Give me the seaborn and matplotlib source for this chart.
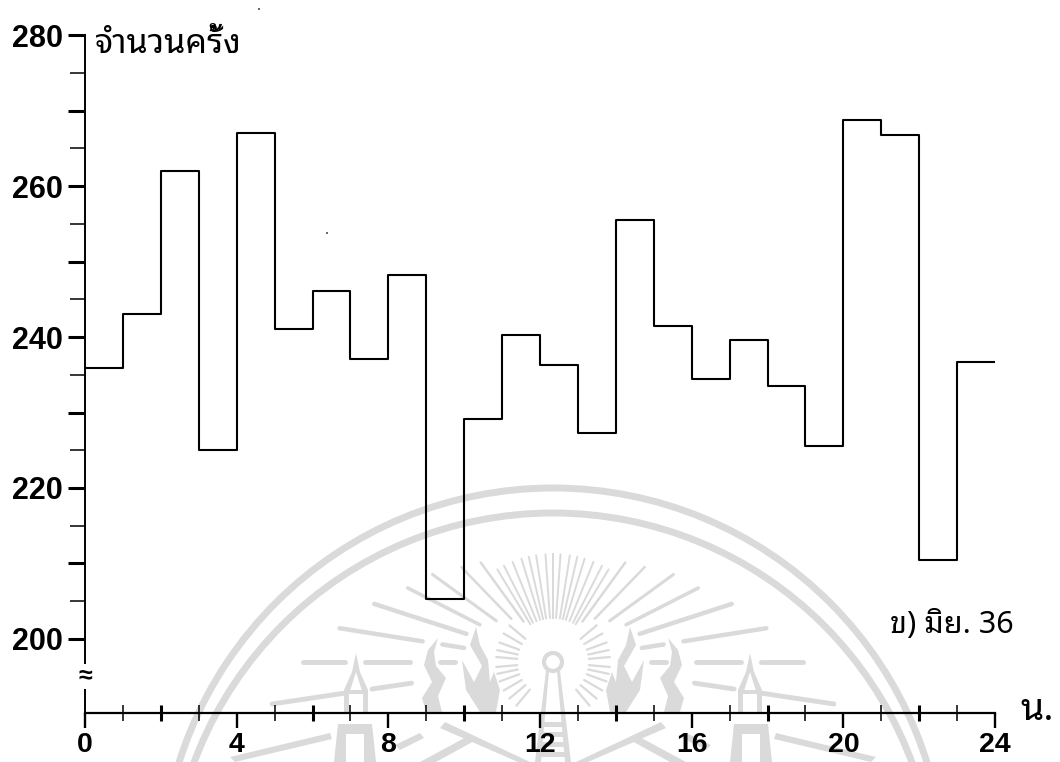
import math
import matplotlib.pyplot as plt
from matplotlib.patches import Circle, Polygon, Rectangle
import seaborn as sns

# -- chart data
hours = list(range(24))
counts = [235.9, 243.0, 262.0, 225.0, 267.1, 241.1, 246.1, 237.1, 248.2, 205.3, 229.2, 240.3,
          236.3, 227.3, 255.5, 241.4, 234.4, 239.6, 233.5, 225.5, 268.8, 266.8, 210.5, 236.7]
y_labels = [200, 220, 240, 260, 280]
y_major = [200, 210, 220, 230, 240, 250, 260, 270, 280]
y_minor = [205, 215, 225, 235, 245, 255, 265, 275]
x_labels = [0, 4, 8, 12, 16, 20, 24]
x_even = [2, 6, 10, 14, 18, 22]
x_odd = [1, 3, 5, 7, 9, 11, 13, 15, 17, 19, 21, 23]

y_title = 'จำนวนครั้ง'
x_title = 'น.'
panel = 'ข) มิย. 36'

WM = '#dadada'
THAI = ['Noto Sans Thai Looped', 'DejaVu Sans']

sns.set_theme(style='ticks')
plt.rcParams['font.family'] = ['Liberation Sans', 'DejaVu Sans']
fig = plt.figure(figsize=(10.6, 7.62), dpi=100)


# -- watermark behind the chart, in picture pixels
bg = fig.add_axes([0, 0, 1, 1], zorder=0)
bg.set_xlim(0, 1060)
bg.set_ylim(762, 0)
bg.axis('off')

cx, cy = 553, 662


def ray(angle, r0, r1, lw=3.5):
    a = math.radians(angle)
    bg.plot([cx - r0 * math.cos(a), cx - r1 * math.cos(a)],
            [cy - r0 * math.sin(a), cy - r1 * math.sin(a)],
            color=WM, lw=lw, solid_capstyle='round')
    a = math.radians(180 - angle)
    bg.plot([cx - r0 * math.cos(a), cx - r1 * math.cos(a)],
            [cy - r0 * math.sin(a), cy - r1 * math.sin(a)],
            color=WM, lw=lw, solid_capstyle='round')


def both(points, color=WM):
    bg.add_patch(Polygon(points, closed=True, color=color, lw=0))
    bg.add_patch(Polygon([(2 * cx - x, y) for x, y in points], closed=True, color=color, lw=0))


bg.add_patch(Circle((cx, 880), 392, fill=False, ec=WM, lw=5))
bg.add_patch(Circle((cx, 896), 383, fill=False, ec=WM, lw=5))

# long rays, broken where the flames sit
for seg in [(98, 113), (143, 188), (208, 250)]:
    ray(0, *seg, lw=3.5)
for seg in [(90, 112), (132, 216)]:
    ray(9, *seg, lw=3.2)
ray(18, 91, 188, 3.2)
ray(27, 82, 163, 2.6)
ray(36, 70, 149, 2.2)
ray(46, 60, 132, 1.8)
ray(54, 50, 123, 1.8)
for angle in [59, 63, 68, 73, 77, 81, 86, 90]:
    ray(angle, 44, 108, 1.4)
for seg in [(143, 183), (212, 284)]:
    ray(-8.5, *seg, lw=3.5)
# short rays round the lamp
for angle in [-50, -40, -30, -20, -12, -5, 5, 12, 20, 30, 40]:
    ray(angle, 36, 57, 1.6)

# lamp in the middle
bg.add_patch(Circle((cx, cy), 9, fill=False, ec=WM, lw=3))
both([(549, 671), (546, 671), (535, 762), (541, 762)])
for y in [722, 732, 742, 752]:
    bg.add_patch(Rectangle((540, y), 26, 5, color=WM, lw=0))

# flames
both([(438, 638), (428, 650), (424, 665), (432, 682), (422, 698), (426, 712),
      (442, 712), (438, 696), (446, 678), (436, 666), (434, 652)])
both([(476, 627), (470, 645), (482, 666), (474, 682), (462, 660), (466, 690),
      (480, 712), (496, 712), (500, 690), (494, 672), (490, 682), (488, 660), (480, 645)])

# towers
both([(356, 653), (352, 672), (344, 690), (344, 712), (349, 712), (349, 694),
      (356, 672), (363, 694), (363, 712), (368, 712), (368, 690), (360, 672)])
both([(344, 690), (368, 690), (368, 694), (344, 694)])
both([(338, 724), (372, 724), (376, 762), (334, 762)])
both([(346, 734), (364, 734), (364, 762), (346, 762)], color='white')

# lower scrolls
both([(230, 757), (330, 733), (332, 739), (235, 762)])
both([(395, 745), (420, 733), (424, 738), (400, 750)])
both([(445, 722), (530, 762), (518, 762), (440, 728)])
both([(420, 762), (470, 735), (476, 740), (436, 762)])

# stray specks of the scan
bg.add_patch(Circle((259, 9), 1, color='#444444', lw=0))
bg.add_patch(Circle((327, 233), 1, color='#444444', lw=0))


# -- the chart
ax = fig.add_axes([85 / 1060, 1 - 712.5 / 762, 910 / 1060, (712.5 - 35.2) / 762], zorder=1)
ax.patch.set_visible(False)

sns.lineplot(x=hours + [24], y=counts + [counts[-1]], drawstyle='steps-post',
             color='black', linewidth=1.5, errorbar=None, ax=ax)

ax.set_xlim(0, 24)
ax.set_ylim(190.25, 280)
ax.set_xlabel('')
ax.set_ylabel('')
sns.despine(ax=ax)
ax.spines['left'].set_linewidth(1.4)
ax.spines['bottom'].set_linewidth(1.6)
ax.spines['left'].set_color('black')
ax.spines['bottom'].set_color('black')

ax.set_xticks(x_labels)
ax.set_xticks(x_even, minor=True)
ax.set_yticks(y_major)
ax.set_yticklabels([str(v) if v in y_labels else '' for v in y_major])
ax.set_yticks(y_minor, minor=True)

ax.tick_params(axis='x', which='major', length=10.8, width=1.7, pad=3.5, labelsize=20.5, color='black', labelcolor='black')
ax.tick_params(axis='x', which='minor', direction='inout', length=12, width=2.2, color='black')
ax.tick_params(axis='y', which='major', length=12, width=2.2, pad=4, labelsize=22, color='black', labelcolor='black')
ax.tick_params(axis='y', which='minor', length=11, width=1.1, color='black')
for lab in ax.get_xticklabels() + ax.get_yticklabels():
    lab.set_fontweight('bold')

# odd hours get the thin crossing tick
sec = ax.secondary_xaxis('bottom')
sec.set_xticks(x_odd)
sec.set_xticklabels([])
sec.tick_params(axis='x', direction='inout', length=12, width=1.1, color='black')
sec.spines['bottom'].set_visible(False)

# axis break
ax.text(0, 195, '≈', ha='center', va='center', fontsize=18, fontweight='bold', color='black',
        bbox=dict(facecolor='white', edgecolor='none', pad=0.5))

fig.text(95 / 1060, 1 - 53 / 762, y_title, family=THAI, fontsize=24.5, color='black', va='baseline')
fig.text(890 / 1060, 1 - 633 / 762, panel, family=THAI, fontsize=22, color='black', va='baseline')
fig.text(1020 / 1060, 1 - 720 / 762, x_title, family=THAI, fontsize=27, fontweight='bold', color='black', va='baseline')

fig.savefig('out.png', dpi=100)
